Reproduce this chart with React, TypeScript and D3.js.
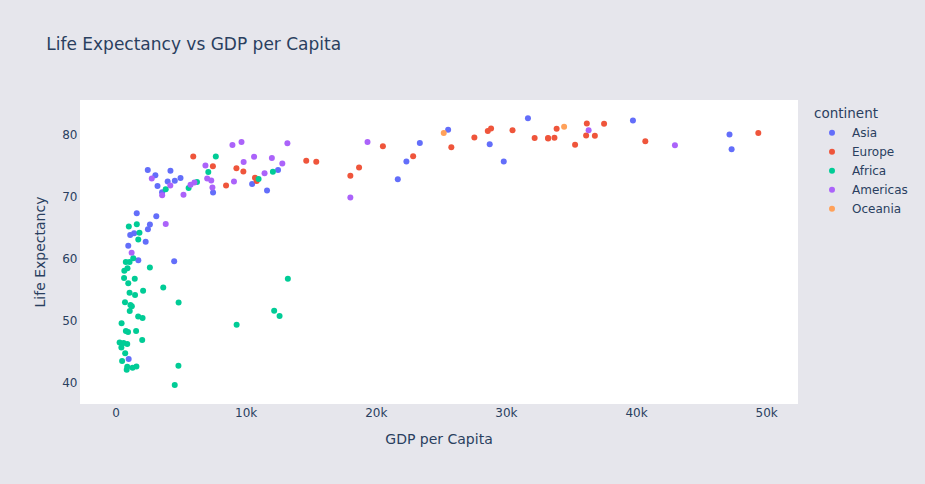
import React from "react";
import * as d3 from "d3";

// Gapminder 2007, grouped by continent (alphabetical country order)
const asiaGdp = [974.58, 29796.05, 1391.25, 1713.78, 4959.11, 39724.98, 2452.21, 3540.65, 11605.71, 4471.06, 25523.28, 31656.07, 4519.46, 1593.07, 23348.14, 47306.99, 10461.06, 12451.66, 3095.77, 944.0, 1091.36, 22316.19, 2605.95, 3190.48, 21654.83, 47143.18, 3970.1, 4184.55, 28718.28, 7458.4, 2441.58, 3025.35, 2280.77];
const asiaLife = [43.828, 75.635, 64.062, 59.723, 72.961, 82.208, 64.698, 70.65, 70.964, 59.545, 80.745, 82.603, 72.535, 67.297, 78.623, 77.588, 71.993, 74.241, 66.803, 62.069, 63.785, 75.64, 65.483, 71.688, 72.777, 79.972, 72.396, 74.143, 78.4, 70.616, 74.249, 73.422, 62.698];

const europeGdp = [5937.03, 36126.49, 33692.61, 7446.3, 10680.79, 14619.22, 22833.31, 35278.42, 33207.08, 30470.02, 32170.37, 27538.41, 18008.94, 36180.79, 40675.0, 28569.72, 9253.9, 36797.93, 49357.19, 15389.92, 20509.65, 10808.48, 9786.53, 18678.31, 25768.26, 28821.06, 33859.75, 37506.42, 8458.28, 33203.26];
const europeLife = [76.423, 79.829, 79.441, 74.852, 73.005, 75.748, 76.486, 78.332, 79.313, 80.657, 79.406, 79.483, 73.338, 81.757, 78.885, 80.546, 74.543, 79.762, 80.196, 75.563, 78.098, 72.476, 74.002, 74.663, 77.926, 80.941, 80.884, 81.701, 71.777, 79.425];

const africaGdp = [6223.37, 4797.23, 1441.28, 12569.85, 1217.03, 430.07, 2042.1, 706.02, 1704.06, 986.15, 277.55, 3632.56, 1544.75, 2082.48, 5581.18, 12154.09, 641.37, 690.81, 13206.48, 752.75, 1327.61, 942.65, 579.23, 1463.25, 1569.33, 414.51, 12057.5, 1044.77, 759.35, 1042.58, 1803.15, 10956.99, 3820.18, 823.69, 4811.06, 619.68, 2013.98, 7670.12, 863.09, 1598.44, 1712.47, 862.54, 926.14, 9269.66, 2602.39, 4513.48, 1107.48, 882.97, 7092.92, 1056.38, 1271.21, 469.71];
const africaLife = [72.301, 42.731, 56.728, 50.728, 52.295, 49.58, 50.43, 44.741, 50.651, 65.152, 46.462, 55.322, 48.328, 54.791, 71.338, 51.579, 58.04, 52.947, 56.735, 59.448, 60.022, 56.007, 46.388, 54.11, 42.592, 45.678, 73.952, 59.443, 48.303, 54.467, 64.164, 72.801, 71.164, 42.082, 52.906, 56.867, 46.859, 76.442, 46.242, 65.528, 63.062, 42.568, 48.159, 49.339, 58.556, 39.613, 52.517, 58.42, 73.923, 51.542, 42.384, 43.487];

const americasGdp = [12779.38, 3822.14, 9065.8, 36319.24, 13171.64, 7006.58, 9645.06, 8948.1, 6025.37, 6873.26, 5728.35, 5186.05, 1201.64, 3548.33, 7320.88, 11977.57, 2749.32, 9809.19, 4172.84, 7408.91, 19328.71, 18008.51, 42951.65, 10611.46, 11415.81];
const americasLife = [75.32, 65.554, 72.39, 80.653, 78.553, 72.889, 78.782, 78.273, 72.235, 74.994, 71.878, 70.259, 60.916, 70.198, 72.567, 76.195, 72.899, 75.537, 71.752, 71.421, 78.746, 69.819, 78.242, 76.384, 73.747];

const oceaniaGdp = [34435.37, 25185.01];
const oceaniaLife = [81.235, 80.204];

const continents = ["Asia", "Europe", "Africa", "Americas", "Oceania"];
const colors = ["#636EFA", "#EF553B", "#00CC96", "#AB63FA", "#FFA15A"];
const gdpSeries = [asiaGdp, europeGdp, africaGdp, americasGdp, oceaniaGdp];
const lifeSeries = [asiaLife, europeLife, africaLife, americasLife, oceaniaLife];

const xTicks = [0, 10000, 20000, 30000, 40000, 50000];
const xTickLabels = ["0", "10k", "20k", "30k", "40k", "50k"];
const yTicks = [40, 50, 60, 70, 80];

const W = 925;
const H = 484;
const plot = { left: 80, right: 798, top: 100, bottom: 404 };
const FONT = '"DejaVu Sans", Verdana, sans-serif';
const TXT = "#2a3f5f";
const PAPER = "#e6e6ec";

export default function App() {
  const x = d3.scaleLinear().domain([-2766, 52408]).range([plot.left, plot.right]);
  const y = d3.scaleLinear().domain([36.56, 85.53]).range([plot.bottom, plot.top]);

  return (
    <svg width={W} height={H} style={{ position: "absolute", left: 0, top: 0, display: "block" }} fontFamily={FONT}>
      <rect x={0} y={0} width={W} height={H} fill={PAPER} />
      <rect x={plot.left} y={plot.top} width={plot.right - plot.left} height={plot.bottom - plot.top} fill="#ffffff" />
      {xTicks.map((t) => (
        <line key={"gx" + t} x1={x(t)} x2={x(t)} y1={plot.top} y2={plot.bottom} stroke="#ffffff" />
      ))}
      {yTicks.map((t) => (
        <line key={"gy" + t} x1={plot.left} x2={plot.right} y1={y(t)} y2={y(t)} stroke="#ffffff" />
      ))}
      <text x={46.25} y={50} fontSize={17} fill={TXT}>Life Expectancy vs GDP per Capita</text>
      {xTicks.map((t, i) => (
        <text key={"tx" + t} x={x(t)} y={417} fontSize={12} fill={TXT} textAnchor="middle">{xTickLabels[i]}</text>
      ))}
      {yTicks.map((t) => (
        <text key={"ty" + t} x={77.5} y={y(t) + 4.2} fontSize={12} fill={TXT} textAnchor="end">{t}</text>
      ))}
      <text x={(plot.left + plot.right) / 2} y={444} fontSize={14} fill={TXT} textAnchor="middle">GDP per Capita</text>
      <text transform={`translate(45,${(plot.top + plot.bottom) / 2}) rotate(-90)`} fontSize={14} fill={TXT} textAnchor="middle">Life Expectancy</text>
      {continents.map((c, ci) => (
        <g key={c}>
          {gdpSeries[ci].map((g, i) => (
            <circle key={i} cx={x(g)} cy={y(lifeSeries[ci][i])} r={3} fill={colors[ci]} />
          ))}
        </g>
      ))}
      <text x={814} y={118} fontSize={13.5} fill={TXT}>continent</text>
      {continents.map((c, ci) => (
        <g key={"lg" + c} transform={`translate(0,${132.7 + ci * 19})`}>
          <circle cx={832} cy={0} r={3} fill={colors[ci]} />
          <text x={852} y={4.3} fontSize={12} fill={TXT}>{c}</text>
        </g>
      ))}
    </svg>
  );
}
